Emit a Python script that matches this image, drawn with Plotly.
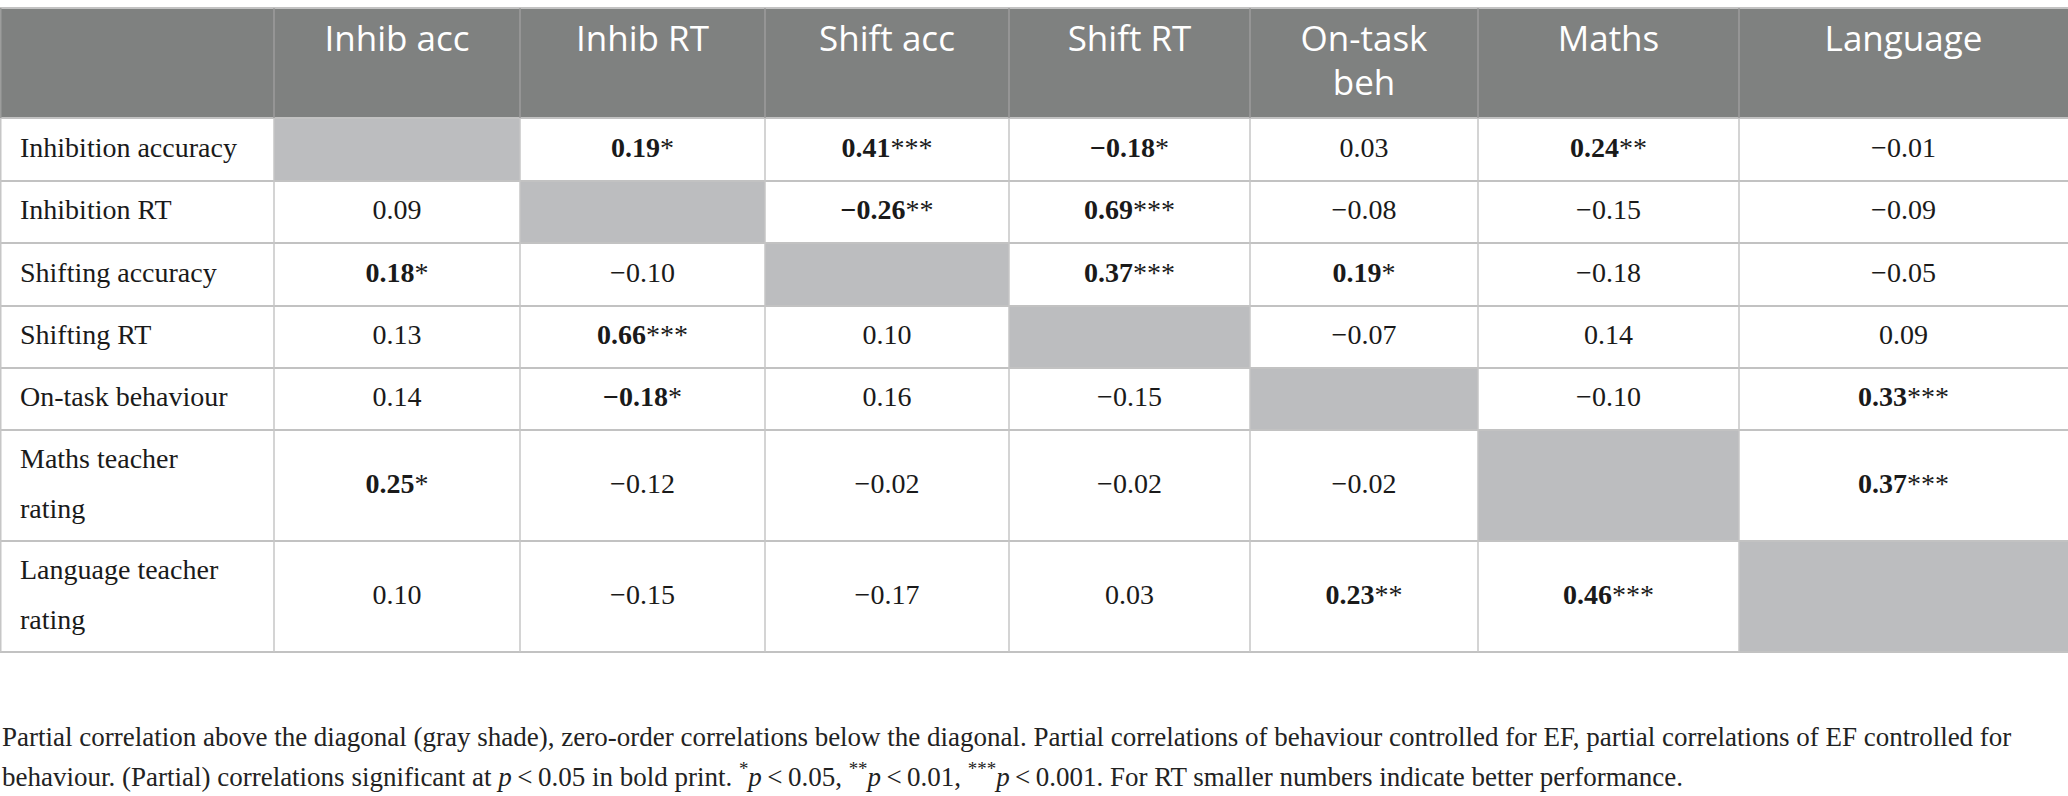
import plotly.graph_objects as go
import numpy as np

# column headers and row labels (<br> marks a wrapped line)
col_labels = ["Inhib acc", "Inhib RT", "Shift acc", "Shift RT", "On-task<br>beh", "Maths", "Language"]
row_labels = ["Inhibition accuracy", "Inhibition RT", "Shifting accuracy", "Shifting RT",
              "On-task behaviour", "Maths teacher<br>rating", "Language teacher<br>rating"]

# correlations per row (None = diagonal), and significance stars
inhib_acc = [None, 0.19, 0.41, -0.18, 0.03, 0.24, -0.01]
inhib_rt = [0.09, None, -0.26, 0.69, -0.08, -0.15, -0.09]
shift_acc = [0.18, -0.10, None, 0.37, 0.19, -0.18, -0.05]
shift_rt = [0.13, 0.66, 0.10, None, -0.07, 0.14, 0.09]
on_task = [0.14, -0.18, 0.16, -0.15, None, -0.10, 0.33]
maths = [0.25, -0.12, -0.02, -0.02, -0.02, None, 0.37]
language = [0.10, -0.15, -0.17, 0.03, 0.23, 0.46, None]

inhib_acc_sig = ["", "*", "***", "*", "", "**", ""]
inhib_rt_sig = ["", "", "**", "***", "", "", ""]
shift_acc_sig = ["*", "", "", "***", "*", "", ""]
shift_rt_sig = ["", "***", "", "", "", "", ""]
on_task_sig = ["", "*", "", "", "", "", "***"]
maths_sig = ["*", "", "", "", "", "", "***"]
language_sig = ["", "", "", "", "**", "***", ""]

note_1 = ("Partial correlation above the diagonal (gray shade), zero-order correlations below the diagonal. "
          "Partial correlations of behaviour controlled for EF, partial correlations of EF controlled for")
note_2 = ("behaviour. (Partial) correlations significant at <i>p</i>\u2009<\u20090.05 in bold print. "
          "<sup>*</sup><i>p</i>\u2009<\u20090.05, <sup>**</sup><i>p</i>\u2009<\u20090.01, "
          "<sup>***</sup><i>p</i>\u2009<\u20090.001. For RT smaller numbers indicate better performance.")

values = [inhib_acc, inhib_rt, shift_acc, shift_rt, on_task, maths, language]
stars = [inhib_acc_sig, inhib_rt_sig, shift_acc_sig, shift_rt_sig, on_task_sig, maths_sig, language_sig]

# geometry (pixels)
W, H = 2068, 796
col_widths = [274, 246, 245, 244, 241, 228, 261, 329]
row_heights = [110, 63, 62, 63, 62, 62, 111, 111]
table_top = 8

x_edges = np.concatenate([[0], np.cumsum(col_widths)])
y_edges = table_top + np.concatenate([[0], np.cumsum(row_heights)])
x_mid = (x_edges[:-1] + x_edges[1:]) / 2
y_mid = (y_edges[:-1] + y_edges[1:]) / 2

HEADER_BG = '#7f8180'
DIAG_BG = '#bcbdbf'
SERIF = 'Liberation Serif'
INK = '#1a1a1a'

# fills: 0 white, 1 diagonal, 2 header
z = [[2] * len(col_widths)]
for i in range(len(row_labels)):
    z.append([0] + [1 if i == j else 0 for j in range(len(col_labels))])

fig = go.Figure()
fig.add_trace(go.Heatmap(x=x_edges, y=y_edges, z=z, zmin=0, zmax=2,
                         colorscale=[[0, 'white'], [0.5, DIAG_BG], [1, HEADER_BG]],
                         showscale=False, hoverinfo='skip'))

def fmt(v, s):
    if v is None:
        return ""
    t = f"{v:.2f}".replace("-", "\u2212")
    return f"<b>{t}</b>{s}" if s else t

# body values
bx, by, bt = [], [], []
for i, row in enumerate(values):
    for j, v in enumerate(row):
        if v is None:
            continue
        bx.append(x_mid[j + 1])
        by.append(y_mid[i + 1])
        bt.append(fmt(v, stars[i][j]))
fig.add_trace(go.Scatter(x=bx, y=by, text=bt, mode='text', textposition='middle center',
                         textfont=dict(family=SERIF, size=28, color=INK),
                         hoverinfo='skip', cliponaxis=False))

# row labels, each wrapped line placed on its own
lx, ly, lt = [], [], []
for i, lab in enumerate(row_labels):
    parts = lab.split("<br>")
    for k, p in enumerate(parts):
        lx.append(20)
        ly.append(y_mid[i + 1] + (k - (len(parts) - 1) / 2) * 50)
        lt.append(p)
fig.add_trace(go.Scatter(x=lx, y=ly, text=lt, mode='text', textposition='middle right',
                         textfont=dict(family=SERIF, size=28, color=INK),
                         hoverinfo='skip', cliponaxis=False))

# header labels, top aligned
hx, hy, ht = [], [], []
for j, lab in enumerate(col_labels):
    for k, p in enumerate(lab.split("<br>")):
        hx.append(x_mid[j + 1])
        hy.append(table_top + 34 + 44 * k)
        ht.append(p)
fig.add_trace(go.Scatter(x=hx, y=hy, text=ht, mode='text', textposition='middle center',
                         textfont=dict(family='Open Sans', size=35, color='white'),
                         hoverinfo='skip', cliponaxis=False))

# grid lines
shapes = []
for y in y_edges:
    shapes.append(dict(type='line', x0=0, x1=W, y0=y, y1=y,
                       line=dict(color='#c2c2c2', width=2)))
for x in x_edges[:-1]:
    xx = max(x, 0.75)
    shapes.append(dict(type='line', x0=xx, x1=xx, y0=y_edges[0], y1=y_edges[1],
                       line=dict(color='#9c9d9c', width=1.5)))
    shapes.append(dict(type='line', x0=xx, x1=xx, y0=y_edges[1], y1=y_edges[-1],
                       line=dict(color='#c6c6c6', width=1.5)))

annotations = [
    dict(text=note_1, x=0, y=737, xref='x', yref='y', xanchor='left', yanchor='middle',
         showarrow=False, font=dict(family=SERIF, size=27, color='#222222')),
    dict(text=note_2, x=0, y=775, xref='x', yref='y', xanchor='left', yanchor='middle',
         showarrow=False, font=dict(family=SERIF, size=27, color='#222222')),
]

fig.update_layout(
    width=W, height=H,
    margin=dict(l=0, r=0, t=0, b=0),
    paper_bgcolor='white', plot_bgcolor='white',
    showlegend=False,
    xaxis=dict(range=[0, W], visible=False, fixedrange=True),
    yaxis=dict(range=[H, 0], visible=False, fixedrange=True),
    shapes=shapes,
    annotations=annotations,
)

# drop the browser's default body margin so the figure sits at the page corner
fig.write_html("out.html", config={'displayModeBar': False},
               post_script="document.body.style.margin='0';document.body.style.overflow='hidden';")
